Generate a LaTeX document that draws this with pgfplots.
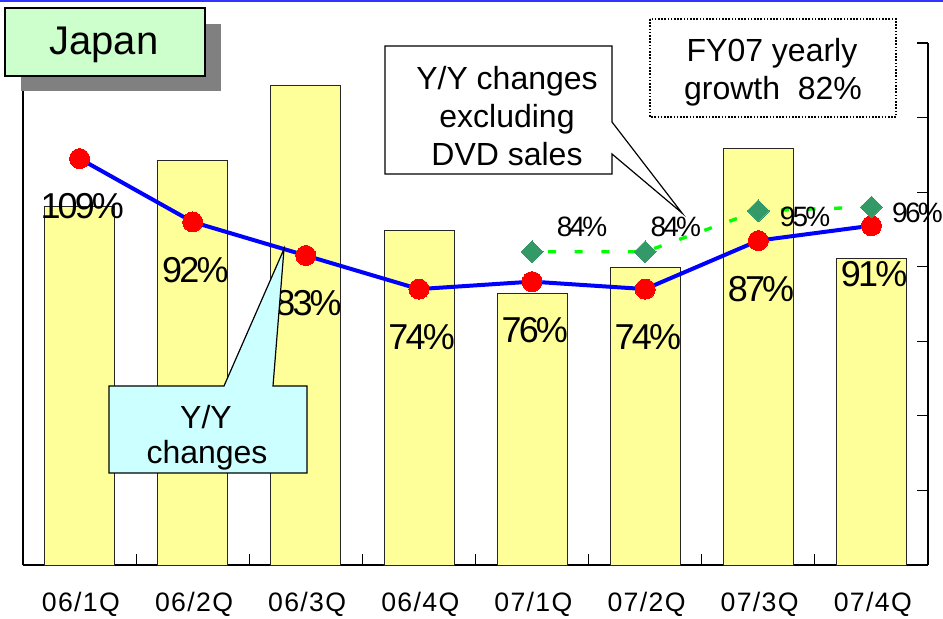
\documentclass[border=0pt]{standalone}
\usepackage{pgfplots}
\pgfplotsset{compat=1.18}
\usepackage{fontspec}
\setmainfont{Liberation Sans}
\newfontfamily\pctfont[LetterSpace=-8]{Liberation Sans}
\newfontfamily\pctsmall[LetterSpace=-10]{Liberation Sans}
\newfontfamily\tickfont[LetterSpace=5]{Liberation Sans}
\definecolor{barfill}{HTML}{FFFF99}
\definecolor{japangreen}{HTML}{CCFFCC}
\definecolor{calloutcyan}{HTML}{CCFFFF}
\definecolor{diamondgreen}{HTML}{339966}
\definecolor{dashgreen}{HTML}{00FF00}
\definecolor{lineblue}{HTML}{0000FF}
\definecolor{dotred}{HTML}{FF0000}
\definecolor{topblue}{HTML}{3333FF}
\definecolor{shadowgray}{HTML}{808080}
\begin{document}
\begin{tikzpicture}
\useasboundingbox (0,0) rectangle (707.25pt,463.5pt);
\begin{axis}[
  at={(17.25pt,39.75pt)}, anchor=south west,
  scale only axis, width=678.75pt, height=391.5pt,
  xmin=-0.5, xmax=7.5, ymin=0, ymax=140,
  axis x line*=bottom, axis y line*=right,
  axis line style={-, black, line width=0.9pt},
  xtick={-0.5,0.5,...,7.5},
  x tick label as interval,
  xticklabels={06/1Q,06/2Q,06/3Q,06/4Q,07/1Q,07/2Q,07/3Q,07/4Q},
  ytick={20,40,...,140}, yticklabels={},
  tick align=inside, major tick length=8pt,
  tick style={black, line width=0.9pt},
  xticklabel style={font=\tickfont\fontsize{20}{20}\selectfont, anchor=base, yshift=-34.5pt, xshift=1pt},
  clip=false,
]
\draw[black, line width=0.9pt] (rel axis cs:0,0) -- (rel axis cs:0,1);
\addplot[ybar, bar width=52.5pt, fill=barfill, draw=black!85, line width=0.6pt]
  coordinates {(0,96.3) (1,108.6) (2,128.7) (3,89.8) (4,72.9) (5,79.9) (6,111.6) (7,82.1)};
\addplot[lineblue, line width=3pt, mark=*, mark size=7.5pt,
  mark options={fill=dotred, draw=dotred, line width=0pt},
  point meta=explicit symbolic, nodes near coords,
  every node near coord/.append style={anchor=center, yshift=-36pt, xshift=2pt,
    text=black, font=\pctfont\fontsize{27}{27}\selectfont}]
  coordinates {(0,109) [109\%] (1,92) [92\%] (2,83) [83\%] (3,74) [74\%]
               (4,76) [76\%] (5,74) [74\%] (6,87) [87\%] (7,91) [91\%]};
\addplot[dashgreen, line width=2.5pt, dash pattern=on 6pt off 14pt, dash phase=-12pt,
  mark=square*, mark size=5.8pt,
  mark options={solid, rotate=45, fill=diamondgreen, draw=diamondgreen, line width=0pt}]
  coordinates {(4,84) (5,84) (6,95) (7,96)};
\node[font=\pctsmall\fontsize{21}{21}\selectfont, xshift=37.5pt, yshift=18.75pt] at (axis cs:4,84) {84\%};
\node[font=\pctsmall\fontsize{21}{21}\selectfont, xshift=23pt, yshift=18.75pt] at (axis cs:5,84) {84\%};
\node[font=\pctsmall\fontsize{21}{21}\selectfont, xshift=35pt, yshift=-4.5pt] at (axis cs:6,95) {95\%};
\node[font=\pctsmall\fontsize{21}{21}\selectfont, xshift=34.5pt, yshift=-4.5pt] at (axis cs:7,96) {96\%};
\end{axis}
\begin{scope}[x=0.75pt, y=-0.75pt, shift={(0pt,463.5pt)}]
  \fill[topblue] (0,0) rectangle (943,2.5);
  % Japan box
  \fill[shadowgray] (21,24) rectangle (221,91);
  \draw[fill=japangreen, line width=1.2pt] (5,8) rectangle (205,76);
  \node[anchor=base, font=\fontsize{30}{30}\selectfont, inner sep=0pt] at (104,55) {Japan};
  % Y/Y changes callout
  \draw[fill=calloutcyan, line width=0.9pt] (109,386) -- (224,386) -- (284,249) -- (273,386)
     -- (307,386) -- (307,473) -- (109,473) -- cycle;
  \node[anchor=base, font=\fontsize{24}{24}\selectfont, inner sep=0pt] at (206,429) {Y/Y};
  \node[anchor=base, font=\fontsize{24}{24}\selectfont, inner sep=0pt] at (207,464) {changes};
  % excluding DVD callout
  \draw[fill=white, line width=0.9pt] (385,46) -- (612,46) -- (612,122) -- (682,213)
     -- (612,154) -- (612,174) -- (385,174) -- cycle;
  \node[anchor=base, font=\fontsize{24}{24}\selectfont, inner sep=0pt] at (507,90) {Y/Y changes};
  \node[anchor=base, font=\fontsize{24}{24}\selectfont, inner sep=0pt] at (507,128) {excluding};
  \node[anchor=base, font=\fontsize{24}{24}\selectfont, inner sep=0pt] at (507,166) {DVD sales};
  % FY07 box
  \draw[line width=1pt, dash pattern=on 1.2pt off 1.2pt] (650,19) rectangle (896,117);
  \node[anchor=base, font=\fontsize{24}{24}\selectfont, inner sep=0pt] at (772,62) {FY07 yearly};
  \node[anchor=base, font=\fontsize{24}{24}\selectfont, inner sep=0pt] at (773,100) {growth\ \ 82\%};
\end{scope}
\end{tikzpicture}
\end{document}
